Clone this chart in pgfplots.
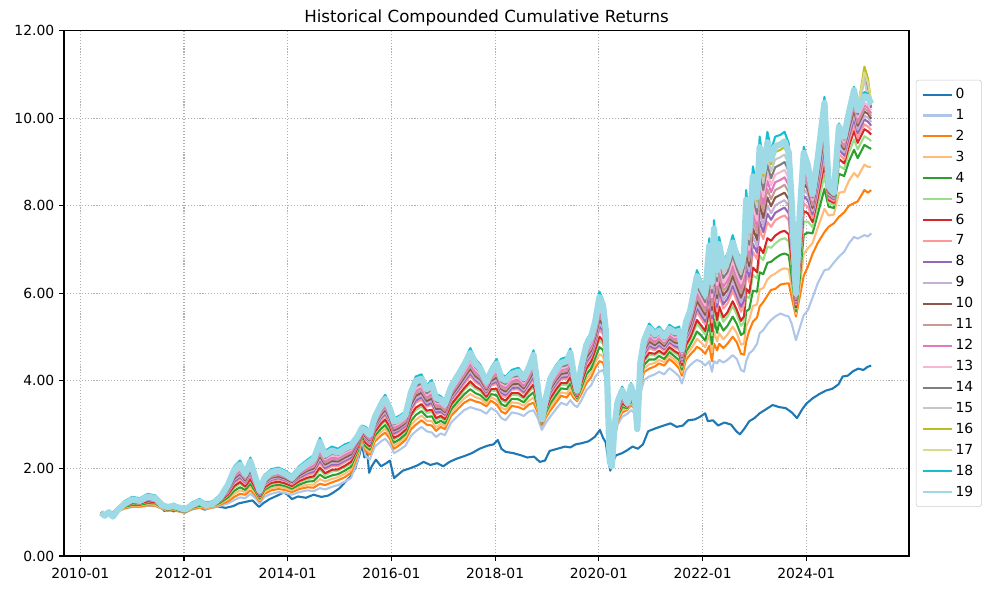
\documentclass[border=0pt]{standalone}
\usepackage{fontspec}
\setmainfont{DejaVu Sans}
\usepackage{pgfplots}
\usepackage{pgfplotstable}
\pgfplotsset{compat=1.18}
\definecolor{c0}{HTML}{1F77B4}
\definecolor{c1}{HTML}{AEC7E8}
\definecolor{c2}{HTML}{FF7F0E}
\definecolor{c3}{HTML}{FFBB78}
\definecolor{c4}{HTML}{2CA02C}
\definecolor{c5}{HTML}{98DF8A}
\definecolor{c6}{HTML}{D62728}
\definecolor{c7}{HTML}{FF9896}
\definecolor{c8}{HTML}{9467BD}
\definecolor{c9}{HTML}{C5B0D5}
\definecolor{c10}{HTML}{8C564B}
\definecolor{c11}{HTML}{C49C94}
\definecolor{c12}{HTML}{E377C2}
\definecolor{c13}{HTML}{F7B6D2}
\definecolor{c14}{HTML}{7F7F7F}
\definecolor{c15}{HTML}{C7C7C7}
\definecolor{c16}{HTML}{BCBD22}
\definecolor{c17}{HTML}{DBDB8D}
\definecolor{c18}{HTML}{17BECF}
\definecolor{c19}{HTML}{9EDAE5}
\definecolor{gridgray}{HTML}{B0B0B0}

\pgfplotstableread{
t s0
2010.40 1.00
2010.47 0.96
2010.53 1.02
2010.60 0.97
2010.68 1.05
2010.80 1.08
2010.92 1.12
2011.05 1.16
2011.15 1.14
2011.30 1.20
2011.45 1.17
2011.55 1.13
2011.62 1.03
2011.70 1.07
2011.80 1.02
2011.90 1.06
2012.00 1.01
2012.10 1.08
2012.25 1.13
2012.40 1.06
2012.50 1.10
2012.65 1.13
2012.80 1.10
2012.95 1.14
2013.05 1.20
2013.20 1.24
2013.32 1.27
2013.45 1.12
2013.52 1.20
2013.65 1.30
2013.80 1.38
2013.92 1.45
2014.00 1.40
2014.08 1.30
2014.20 1.36
2014.35 1.33
2014.50 1.40
2014.65 1.35
2014.78 1.38
2014.88 1.45
2015.00 1.55
2015.10 1.68
2015.20 1.80
2015.30 2.00
2015.38 2.30
2015.43 2.55
2015.48 2.25
2015.53 2.40
2015.57 1.90
2015.62 2.05
2015.70 2.20
2015.80 2.05
2015.90 2.12
2015.97 2.18
2016.05 1.78
2016.12 1.85
2016.22 1.95
2016.35 2.00
2016.50 2.07
2016.62 2.15
2016.75 2.08
2016.88 2.12
2017.00 2.05
2017.12 2.15
2017.25 2.22
2017.40 2.28
2017.55 2.35
2017.70 2.45
2017.85 2.52
2017.97 2.55
2018.05 2.65
2018.12 2.45
2018.20 2.38
2018.35 2.35
2018.50 2.30
2018.62 2.25
2018.75 2.27
2018.86 2.15
2018.96 2.18
2019.05 2.40
2019.20 2.45
2019.35 2.50
2019.45 2.48
2019.55 2.55
2019.68 2.58
2019.80 2.62
2019.92 2.72
2020.02 2.88
2020.08 2.70
2020.13 2.60
2020.18 2.20
2020.22 1.95
2020.27 2.15
2020.33 2.30
2020.45 2.35
2020.55 2.42
2020.65 2.50
2020.75 2.45
2020.85 2.55
2020.95 2.85
2021.10 2.92
2021.25 2.98
2021.38 3.03
2021.50 2.95
2021.62 2.98
2021.72 3.10
2021.85 3.12
2021.95 3.18
2022.05 3.26
2022.10 3.08
2022.20 3.10
2022.30 2.98
2022.42 3.05
2022.55 3.00
2022.65 2.85
2022.72 2.78
2022.80 2.90
2022.90 3.08
2023.00 3.15
2023.10 3.26
2023.22 3.35
2023.35 3.45
2023.48 3.40
2023.60 3.38
2023.72 3.28
2023.82 3.15
2023.92 3.35
2024.00 3.48
2024.12 3.60
2024.25 3.70
2024.38 3.78
2024.50 3.82
2024.62 3.92
2024.70 4.10
2024.80 4.12
2024.90 4.22
2025.00 4.28
2025.10 4.25
2025.18 4.32
2025.25 4.35
}\serieszero

\pgfplotstableread{
t s1 s2 s3 s4 s5 s6 s7 s8 s9 s10 s11 s12 s13 s14 s15 s16 s17 s18 s19
2010.40 1.00 1.00 1.00 1.00 1.00 1.00 1.00 1.00 1.00 1.00 1.00 1.00 1.00 0.99 0.99 0.99 0.99 0.99 0.99
2010.47 0.97 0.96 0.96 0.95 0.95 0.95 0.94 0.94 0.94 0.94 0.93 0.93 0.93 0.93 0.93 0.92 0.92 0.92 0.92
2010.55 1.01 1.01 1.01 1.01 1.01 1.01 1.01 1.01 1.01 1.01 1.00 1.00 1.00 1.00 1.00 1.00 1.00 1.00 1.00
2010.63 0.97 0.96 0.95 0.95 0.94 0.94 0.93 0.93 0.93 0.92 0.92 0.92 0.92 0.91 0.91 0.91 0.90 0.90 0.90
2010.72 1.02 1.02 1.02 1.03 1.03 1.03 1.03 1.04 1.04 1.04 1.04 1.04 1.04 1.04 1.05 1.05 1.05 1.05 1.05
2010.85 1.08 1.09 1.11 1.12 1.14 1.15 1.16 1.17 1.18 1.19 1.19 1.20 1.21 1.22 1.23 1.23 1.24 1.25 1.19
2011.00 1.12 1.13 1.15 1.17 1.20 1.21 1.23 1.24 1.25 1.26 1.27 1.28 1.30 1.31 1.32 1.33 1.34 1.35 1.29
2011.15 1.12 1.13 1.15 1.17 1.19 1.20 1.22 1.23 1.23 1.24 1.25 1.26 1.27 1.28 1.29 1.30 1.31 1.32 1.26
2011.30 1.15 1.16 1.19 1.21 1.24 1.25 1.28 1.29 1.30 1.32 1.33 1.34 1.36 1.37 1.38 1.39 1.41 1.42 1.36
2011.45 1.14 1.15 1.17 1.20 1.22 1.23 1.25 1.27 1.28 1.29 1.30 1.31 1.32 1.33 1.35 1.36 1.37 1.38 1.32
2011.58 1.08 1.08 1.09 1.11 1.12 1.13 1.14 1.15 1.16 1.16 1.17 1.18 1.19 1.19 1.20 1.21 1.21 1.22 1.16
2011.68 1.04 1.03 1.04 1.05 1.06 1.06 1.07 1.08 1.08 1.08 1.09 1.09 1.10 1.10 1.11 1.11 1.12 1.12 1.12
2011.80 1.06 1.05 1.07 1.08 1.10 1.10 1.12 1.13 1.13 1.14 1.15 1.16 1.16 1.17 1.18 1.19 1.19 1.20 1.14
2011.92 1.02 1.01 1.02 1.03 1.04 1.04 1.05 1.06 1.06 1.06 1.07 1.07 1.08 1.08 1.09 1.09 1.10 1.10 1.10
2012.02 1.00 0.99 1.00 1.00 1.01 1.01 1.02 1.03 1.03 1.03 1.04 1.04 1.04 1.05 1.05 1.05 1.06 1.06 1.06
2012.15 1.06 1.07 1.09 1.10 1.12 1.12 1.14 1.15 1.15 1.16 1.17 1.18 1.18 1.19 1.20 1.21 1.21 1.22 1.16
2012.30 1.10 1.11 1.13 1.15 1.17 1.18 1.20 1.21 1.21 1.22 1.23 1.24 1.25 1.26 1.27 1.28 1.29 1.30 1.24
2012.42 1.08 1.09 1.10 1.12 1.13 1.14 1.15 1.16 1.16 1.17 1.17 1.18 1.19 1.19 1.20 1.21 1.21 1.22 1.16
2012.55 1.10 1.11 1.12 1.14 1.15 1.16 1.17 1.18 1.19 1.19 1.20 1.21 1.22 1.22 1.23 1.24 1.24 1.25 1.19
2012.70 1.15 1.18 1.20 1.22 1.25 1.26 1.28 1.29 1.30 1.31 1.32 1.33 1.35 1.36 1.37 1.38 1.39 1.40 1.34
2012.85 1.20 1.25 1.30 1.34 1.39 1.41 1.45 1.48 1.50 1.52 1.54 1.57 1.59 1.61 1.63 1.66 1.68 1.70 1.63
2012.97 1.28 1.35 1.42 1.49 1.56 1.60 1.67 1.70 1.74 1.77 1.81 1.84 1.88 1.91 1.95 1.98 2.02 2.05 1.97
2013.08 1.34 1.42 1.50 1.57 1.65 1.69 1.76 1.80 1.84 1.88 1.91 1.95 1.99 2.03 2.07 2.10 2.14 2.18 2.09
2013.18 1.32 1.40 1.46 1.51 1.57 1.59 1.65 1.68 1.70 1.73 1.76 1.79 1.81 1.84 1.87 1.90 1.92 1.95 1.87
2013.28 1.42 1.50 1.58 1.65 1.73 1.76 1.84 1.88 1.91 1.95 1.99 2.03 2.06 2.10 2.14 2.18 2.21 2.25 2.16
2013.38 1.32 1.38 1.43 1.47 1.52 1.54 1.59 1.62 1.64 1.66 1.69 1.71 1.73 1.76 1.78 1.80 1.83 1.85 1.78
2013.46 1.20 1.25 1.28 1.31 1.34 1.36 1.39 1.40 1.42 1.43 1.45 1.46 1.48 1.49 1.51 1.52 1.54 1.55 1.49
2013.55 1.35 1.42 1.46 1.51 1.55 1.57 1.61 1.64 1.66 1.68 1.70 1.72 1.74 1.76 1.79 1.81 1.83 1.85 1.78
2013.68 1.42 1.50 1.55 1.60 1.64 1.67 1.72 1.74 1.76 1.79 1.81 1.84 1.86 1.88 1.91 1.93 1.96 1.98 1.91
2013.82 1.46 1.53 1.58 1.63 1.68 1.70 1.75 1.78 1.80 1.82 1.85 1.87 1.90 1.92 1.95 1.97 2.00 2.02 1.95
2013.95 1.44 1.51 1.55 1.60 1.64 1.66 1.71 1.73 1.75 1.77 1.80 1.82 1.84 1.86 1.88 1.91 1.93 1.95 1.88
2014.08 1.40 1.46 1.50 1.54 1.58 1.60 1.64 1.66 1.67 1.69 1.71 1.73 1.75 1.77 1.79 1.81 1.83 1.85 1.78
2014.22 1.46 1.53 1.58 1.63 1.69 1.71 1.76 1.79 1.82 1.84 1.87 1.89 1.92 1.95 1.97 2.00 2.02 2.05 1.97
2014.38 1.50 1.57 1.63 1.70 1.76 1.79 1.85 1.89 1.92 1.95 1.98 2.01 2.04 2.07 2.11 2.14 2.17 2.20 2.12
2014.50 1.48 1.56 1.63 1.71 1.78 1.82 1.89 1.93 1.97 2.00 2.04 2.08 2.12 2.15 2.19 2.23 2.26 2.30 2.21
2014.62 1.55 1.65 1.76 1.86 1.97 2.02 2.12 2.18 2.23 2.28 2.33 2.39 2.44 2.49 2.54 2.60 2.65 2.70 2.60
2014.72 1.52 1.62 1.70 1.78 1.85 1.89 1.97 2.01 2.05 2.09 2.13 2.17 2.21 2.24 2.28 2.32 2.36 2.40 2.31
2014.85 1.58 1.68 1.76 1.84 1.93 1.97 2.05 2.09 2.13 2.17 2.21 2.25 2.30 2.34 2.38 2.42 2.46 2.50 2.41
2014.97 1.62 1.73 1.80 1.87 1.95 1.98 2.05 2.09 2.13 2.16 2.20 2.23 2.27 2.31 2.34 2.38 2.41 2.45 2.36
2015.10 1.70 1.80 1.88 1.95 2.03 2.06 2.14 2.18 2.21 2.25 2.29 2.33 2.36 2.40 2.44 2.48 2.51 2.55 2.46
2015.22 1.78 1.90 1.97 2.04 2.11 2.15 2.22 2.25 2.29 2.32 2.36 2.39 2.43 2.46 2.50 2.53 2.57 2.60 2.52
2015.35 2.20 2.30 2.35 2.40 2.45 2.48 2.53 2.55 2.58 2.60 2.63 2.65 2.68 2.70 2.73 2.75 2.78 2.80 2.73
2015.43 2.65 2.72 2.75 2.77 2.80 2.81 2.84 2.85 2.86 2.88 2.89 2.90 2.92 2.93 2.94 2.95 2.97 2.98 2.92
2015.50 2.30 2.40 2.46 2.51 2.57 2.59 2.65 2.68 2.70 2.73 2.76 2.79 2.81 2.84 2.87 2.90 2.92 2.95 2.87
2015.58 2.20 2.32 2.37 2.43 2.48 2.51 2.56 2.59 2.61 2.64 2.66 2.69 2.72 2.74 2.77 2.80 2.82 2.85 2.77
2015.68 2.50 2.62 2.68 2.75 2.81 2.84 2.90 2.94 2.97 3.00 3.03 3.06 3.09 3.12 3.16 3.19 3.22 3.25 3.17
2015.80 2.62 2.75 2.83 2.91 2.99 3.03 3.11 3.15 3.19 3.23 3.27 3.31 3.35 3.39 3.43 3.47 3.51 3.55 3.46
2015.88 2.68 2.82 2.91 2.99 3.08 3.12 3.21 3.25 3.29 3.34 3.38 3.42 3.47 3.51 3.55 3.59 3.64 3.68 3.59
2015.97 2.55 2.68 2.76 2.83 2.91 2.95 3.03 3.07 3.10 3.14 3.18 3.22 3.26 3.30 3.33 3.37 3.41 3.45 3.36
2016.05 2.35 2.45 2.52 2.59 2.66 2.70 2.77 2.80 2.84 2.87 2.91 2.94 2.98 3.01 3.05 3.08 3.12 3.15 3.07
2016.15 2.42 2.53 2.60 2.66 2.73 2.76 2.83 2.87 2.90 2.93 2.97 3.00 3.03 3.07 3.10 3.13 3.17 3.20 3.12
2016.27 2.52 2.65 2.72 2.78 2.85 2.88 2.94 2.98 3.01 3.04 3.07 3.11 3.14 3.17 3.20 3.24 3.27 3.30 3.22
2016.38 2.75 2.90 3.00 3.09 3.19 3.23 3.33 3.38 3.42 3.47 3.52 3.57 3.61 3.66 3.71 3.76 3.80 3.85 3.75
2016.47 2.85 3.00 3.11 3.22 3.33 3.39 3.50 3.55 3.61 3.66 3.72 3.77 3.83 3.88 3.94 3.99 4.05 4.10 4.00
2016.58 2.95 3.10 3.21 3.31 3.42 3.47 3.57 3.63 3.68 3.73 3.78 3.84 3.89 3.94 3.99 4.05 4.10 4.15 4.05
2016.68 2.85 3.00 3.09 3.18 3.27 3.32 3.41 3.45 3.50 3.54 3.59 3.63 3.68 3.72 3.77 3.81 3.86 3.90 3.81
2016.78 2.82 2.98 3.08 3.19 3.29 3.34 3.45 3.50 3.55 3.60 3.66 3.71 3.76 3.81 3.86 3.92 3.97 4.02 3.92
2016.86 2.72 2.86 2.94 3.03 3.11 3.15 3.24 3.28 3.32 3.36 3.41 3.45 3.49 3.53 3.57 3.62 3.66 3.70 3.61
2016.95 2.80 2.95 3.02 3.09 3.16 3.20 3.27 3.30 3.34 3.37 3.41 3.44 3.48 3.51 3.55 3.58 3.62 3.65 3.57
2017.03 2.76 2.90 2.97 3.03 3.10 3.13 3.19 3.23 3.26 3.29 3.32 3.36 3.39 3.42 3.45 3.49 3.52 3.55 3.47
2017.15 3.05 3.20 3.28 3.35 3.43 3.46 3.54 3.58 3.61 3.65 3.69 3.73 3.76 3.80 3.84 3.88 3.91 3.95 3.86
2017.28 3.20 3.36 3.44 3.53 3.61 3.65 3.74 3.78 3.82 3.86 3.91 3.95 3.99 4.03 4.07 4.12 4.16 4.20 4.11
2017.40 3.33 3.50 3.60 3.69 3.79 3.83 3.93 3.98 4.02 4.07 4.12 4.17 4.21 4.26 4.31 4.36 4.40 4.45 4.35
2017.52 3.40 3.58 3.70 3.81 3.93 3.99 4.11 4.17 4.22 4.28 4.34 4.40 4.46 4.52 4.57 4.63 4.69 4.75 4.64
2017.62 3.36 3.53 3.63 3.72 3.82 3.87 3.97 4.02 4.06 4.11 4.16 4.21 4.26 4.31 4.35 4.40 4.45 4.50 4.40
2017.72 3.33 3.50 3.59 3.67 3.76 3.80 3.89 3.93 3.97 4.02 4.06 4.10 4.15 4.19 4.23 4.27 4.32 4.36 4.27
2017.83 3.25 3.42 3.48 3.55 3.61 3.64 3.70 3.74 3.77 3.80 3.83 3.86 3.89 3.92 3.96 3.99 4.02 4.05 3.97
2017.92 3.38 3.55 3.63 3.70 3.78 3.81 3.89 3.93 3.96 4.00 4.04 4.08 4.11 4.15 4.19 4.23 4.26 4.30 4.21
2018.03 3.30 3.46 3.56 3.67 3.77 3.82 3.93 3.98 4.03 4.08 4.14 4.19 4.24 4.29 4.34 4.40 4.45 4.50 4.40
2018.12 3.15 3.30 3.39 3.47 3.56 3.60 3.68 3.73 3.77 3.81 3.85 3.90 3.94 3.98 4.02 4.07 4.11 4.15 4.06
2018.20 3.10 3.25 3.34 3.42 3.51 3.55 3.63 3.68 3.72 3.76 3.80 3.85 3.89 3.93 3.97 4.02 4.06 4.10 4.01
2018.32 3.28 3.43 3.51 3.59 3.68 3.72 3.80 3.84 3.88 3.92 3.96 4.00 4.05 4.09 4.13 4.17 4.21 4.25 4.16
2018.45 3.25 3.40 3.49 3.58 3.67 3.72 3.81 3.85 3.90 3.94 3.99 4.03 4.08 4.12 4.17 4.21 4.26 4.30 4.21
2018.55 3.20 3.35 3.43 3.51 3.59 3.63 3.71 3.75 3.79 3.83 3.87 3.91 3.95 3.99 4.03 4.07 4.11 4.15 4.06
2018.65 3.30 3.46 3.55 3.65 3.74 3.79 3.88 3.93 3.98 4.02 4.07 4.12 4.17 4.21 4.26 4.31 4.35 4.40 4.30
2018.74 3.33 3.50 3.62 3.74 3.86 3.92 4.04 4.10 4.16 4.22 4.28 4.34 4.40 4.46 4.52 4.58 4.64 4.70 4.59
2018.82 3.15 3.28 3.35 3.41 3.48 3.51 3.58 3.62 3.65 3.68 3.72 3.75 3.78 3.82 3.85 3.88 3.92 3.95 3.87
2018.90 2.88 2.98 3.00 3.02 3.04 3.05 3.07 3.08 3.09 3.10 3.11 3.12 3.13 3.14 3.15 3.16 3.17 3.18 3.12
2018.98 3.05 3.17 3.22 3.28 3.33 3.36 3.41 3.44 3.46 3.49 3.51 3.54 3.57 3.59 3.62 3.65 3.67 3.70 3.62
2019.06 3.18 3.32 3.40 3.48 3.56 3.60 3.68 3.73 3.77 3.81 3.85 3.89 3.93 3.97 4.01 4.05 4.09 4.13 4.04
2019.17 3.35 3.50 3.59 3.67 3.76 3.80 3.88 3.93 3.97 4.01 4.05 4.10 4.14 4.18 4.22 4.27 4.31 4.35 4.26
2019.27 3.50 3.66 3.74 3.83 3.91 3.95 4.04 4.08 4.12 4.16 4.21 4.25 4.29 4.33 4.37 4.42 4.46 4.50 4.41
2019.38 3.45 3.62 3.71 3.81 3.90 3.95 4.04 4.09 4.13 4.18 4.22 4.27 4.32 4.36 4.41 4.46 4.50 4.55 4.45
2019.45 3.56 3.74 3.84 3.94 4.04 4.09 4.19 4.24 4.29 4.34 4.39 4.44 4.49 4.54 4.59 4.64 4.69 4.74 4.64
2019.52 3.45 3.60 3.66 3.72 3.78 3.81 3.87 3.90 3.93 3.96 3.99 4.02 4.05 4.08 4.11 4.14 4.17 4.20 4.12
2019.58 3.40 3.54 3.57 3.60 3.63 3.65 3.68 3.70 3.71 3.73 3.74 3.76 3.77 3.79 3.80 3.82 3.83 3.85 3.78
2019.66 3.55 3.70 3.77 3.84 3.91 3.95 4.02 4.05 4.09 4.12 4.16 4.19 4.23 4.26 4.30 4.33 4.37 4.40 4.32
2019.76 3.79 3.95 4.05 4.15 4.24 4.29 4.39 4.44 4.49 4.54 4.59 4.64 4.69 4.73 4.78 4.83 4.88 4.93 4.83
2019.85 3.90 4.08 4.18 4.28 4.39 4.44 4.54 4.59 4.64 4.69 4.74 4.79 4.85 4.90 4.95 5.00 5.05 5.10 5.00
2019.93 4.10 4.30 4.42 4.53 4.65 4.71 4.83 4.89 4.94 5.00 5.06 5.12 5.18 5.24 5.29 5.35 5.41 5.47 5.36
2020.01 4.21 4.45 4.61 4.77 4.93 5.01 5.17 5.25 5.32 5.40 5.48 5.56 5.64 5.72 5.80 5.88 5.96 6.04 5.91
2020.08 4.25 4.42 4.56 4.71 4.85 4.92 5.06 5.14 5.21 5.28 5.35 5.42 5.49 5.56 5.64 5.71 5.78 5.85 5.73
2020.13 4.05 4.20 4.31 4.42 4.53 4.59 4.70 4.75 4.81 4.86 4.92 4.97 5.03 5.08 5.14 5.19 5.25 5.30 5.20
2020.17 3.40 3.45 3.48 3.50 3.53 3.54 3.56 3.58 3.59 3.60 3.61 3.63 3.64 3.65 3.66 3.68 3.69 3.70 3.64
2020.21 2.25 2.22 2.21 2.21 2.20 2.20 2.19 2.19 2.18 2.18 2.17 2.17 2.17 2.16 2.16 2.16 2.15 2.15 2.15
2020.25 2.15 2.10 2.10 2.09 2.09 2.08 2.08 2.08 2.07 2.07 2.07 2.07 2.06 2.06 2.06 2.06 2.05 2.05 2.05
2020.30 2.65 2.70 2.73 2.76 2.79 2.81 2.84 2.85 2.87 2.88 2.90 2.91 2.93 2.94 2.96 2.97 2.99 3.00 2.94
2020.36 3.00 3.08 3.13 3.18 3.24 3.26 3.31 3.34 3.37 3.39 3.42 3.44 3.47 3.50 3.52 3.55 3.57 3.60 3.52
2020.45 3.18 3.28 3.34 3.40 3.46 3.49 3.55 3.58 3.60 3.63 3.66 3.69 3.72 3.75 3.78 3.81 3.84 3.87 3.79
2020.55 3.25 3.34 3.36 3.38 3.40 3.41 3.43 3.45 3.46 3.47 3.48 3.49 3.50 3.51 3.52 3.53 3.54 3.55 3.49
2020.62 3.33 3.45 3.50 3.55 3.60 3.63 3.68 3.70 3.73 3.75 3.78 3.80 3.83 3.85 3.88 3.90 3.93 3.95 3.88
2020.70 3.26 3.35 3.38 3.40 3.43 3.44 3.46 3.48 3.49 3.50 3.51 3.53 3.54 3.55 3.56 3.58 3.59 3.60 3.54
2020.74 3.15 3.24 3.27 3.30 3.33 3.35 3.38 3.40 3.41 3.43 3.44 3.46 3.47 3.49 3.50 3.52 3.53 3.55 2.90
2020.80 3.70 3.85 3.92 3.98 4.05 4.08 4.14 4.18 4.21 4.24 4.27 4.31 4.34 4.37 4.40 4.44 4.47 4.50 4.42
2020.87 4.02 4.20 4.28 4.36 4.44 4.48 4.56 4.61 4.65 4.69 4.73 4.77 4.81 4.85 4.89 4.93 4.97 5.01 4.92
2020.97 4.10 4.28 4.38 4.49 4.59 4.64 4.74 4.80 4.85 4.90 4.95 5.00 5.05 5.10 5.16 5.21 5.26 5.31 5.21
2021.08 4.15 4.33 4.41 4.49 4.58 4.62 4.70 4.74 4.78 4.82 4.86 4.90 4.95 4.99 5.03 5.07 5.11 5.15 5.06
2021.16 4.21 4.40 4.48 4.57 4.65 4.69 4.78 4.82 4.86 4.90 4.95 4.99 5.03 5.07 5.11 5.16 5.20 5.24 5.15
2021.26 4.15 4.35 4.43 4.50 4.58 4.61 4.69 4.73 4.76 4.80 4.84 4.88 4.91 4.95 4.99 5.03 5.06 5.10 5.01
2021.36 4.29 4.50 4.58 4.66 4.73 4.77 4.85 4.89 4.93 4.97 5.01 5.05 5.09 5.12 5.16 5.20 5.24 5.28 5.19
2021.46 4.20 4.40 4.48 4.56 4.64 4.68 4.76 4.80 4.84 4.88 4.92 4.96 5.00 5.04 5.08 5.12 5.16 5.20 5.11
2021.55 4.10 4.28 4.38 4.47 4.57 4.62 4.71 4.76 4.81 4.86 4.90 4.95 5.00 5.05 5.10 5.14 5.19 5.24 5.14
2021.60 3.94 4.12 4.19 4.26 4.32 4.36 4.43 4.46 4.49 4.53 4.56 4.60 4.63 4.66 4.70 4.73 4.77 4.80 4.72
2021.68 4.25 4.48 4.58 4.67 4.77 4.82 4.92 4.97 5.01 5.06 5.11 5.16 5.21 5.26 5.30 5.35 5.40 5.45 5.35
2021.76 4.36 4.60 4.71 4.82 4.93 4.99 5.10 5.15 5.21 5.26 5.32 5.37 5.43 5.48 5.54 5.59 5.65 5.70 5.60
2021.84 4.44 4.70 4.85 5.00 5.15 5.23 5.38 5.45 5.53 5.60 5.68 5.75 5.83 5.90 5.98 6.05 6.13 6.20 6.08
2021.89 4.48 4.78 4.96 5.13 5.31 5.39 5.57 5.66 5.74 5.83 5.92 6.01 6.09 6.18 6.27 6.36 6.44 6.53 6.39
2021.97 4.44 4.72 4.88 5.04 5.19 5.27 5.43 5.51 5.59 5.67 5.75 5.83 5.91 5.98 6.06 6.14 6.22 6.30 6.17
2022.05 4.35 4.62 4.77 4.92 5.06 5.14 5.29 5.36 5.43 5.51 5.58 5.66 5.73 5.80 5.88 5.95 6.03 6.10 5.98
2022.13 4.45 4.80 5.05 5.29 5.54 5.66 5.91 6.03 6.15 6.28 6.40 6.52 6.65 6.77 6.89 7.01 7.14 7.26 7.09
2022.18 4.21 4.45 4.65 4.84 5.04 5.13 5.33 5.43 5.52 5.62 5.72 5.82 5.91 6.01 6.11 6.21 6.30 6.40 6.25
2022.22 4.45 4.85 5.13 5.41 5.70 5.84 6.12 6.26 6.40 6.54 6.68 6.82 6.97 7.11 7.25 7.39 7.53 7.67 7.48
2022.28 4.40 4.70 4.90 5.10 5.29 5.39 5.59 5.69 5.79 5.89 5.99 6.09 6.19 6.28 6.38 6.48 6.58 6.68 6.53
2022.32 4.48 4.85 5.09 5.34 5.58 5.70 5.95 6.07 6.19 6.31 6.44 6.56 6.68 6.80 6.92 7.05 7.17 7.29 7.12
2022.40 4.42 4.75 4.95 5.15 5.35 5.45 5.65 5.75 5.85 5.95 6.05 6.15 6.25 6.35 6.45 6.55 6.65 6.75 6.60
2022.48 4.48 4.85 5.06 5.26 5.47 5.57 5.77 5.88 5.98 6.08 6.18 6.29 6.39 6.49 6.59 6.70 6.80 6.90 6.75
2022.58 4.59 5.01 5.24 5.47 5.71 5.82 6.05 6.17 6.29 6.40 6.52 6.63 6.75 6.87 6.98 7.10 7.21 7.33 7.16
2022.66 4.50 4.88 5.09 5.30 5.51 5.62 5.83 5.94 6.04 6.15 6.25 6.36 6.46 6.57 6.67 6.78 6.88 6.99 6.83
2022.74 4.25 4.62 4.83 5.05 5.26 5.37 5.58 5.69 5.80 5.90 6.01 6.12 6.23 6.33 6.44 6.55 6.65 6.76 6.60
2022.80 4.21 4.60 4.85 5.10 5.35 5.48 5.73 5.85 5.98 6.10 6.23 6.35 6.48 6.60 6.73 6.85 6.98 7.10 6.93
2022.84 4.45 4.90 5.25 5.59 5.94 6.11 6.46 6.63 6.80 6.98 7.15 7.32 7.50 7.67 7.84 8.01 8.19 8.36 8.14
2022.90 4.63 5.15 5.40 5.64 5.89 6.01 6.25 6.38 6.50 6.62 6.74 6.87 6.99 7.11 7.23 7.36 7.48 7.60 7.43
2022.97 4.70 5.35 5.71 6.06 6.42 6.59 6.95 7.13 7.30 7.48 7.66 7.84 8.01 8.19 8.37 8.55 8.72 8.90 8.67
2023.05 4.85 5.45 5.75 6.04 6.34 6.48 6.78 6.93 7.07 7.22 7.37 7.52 7.66 7.81 7.96 8.11 8.25 8.40 8.20
2023.10 5.09 5.70 6.09 6.48 6.86 7.06 7.45 7.64 7.83 8.03 8.22 8.42 8.61 8.80 9.00 9.19 9.39 9.58 9.34
2023.17 5.16 5.80 6.12 6.44 6.76 6.92 7.24 7.40 7.56 7.72 7.88 8.04 8.20 8.36 8.52 8.68 8.84 9.00 8.79
2023.25 5.30 5.95 6.32 6.70 7.07 7.26 7.63 7.82 8.01 8.19 8.38 8.57 8.76 8.94 9.13 9.32 9.50 9.69 9.45
2023.32 5.39 6.08 6.40 6.72 7.04 7.20 7.52 7.68 7.83 7.99 8.15 8.31 8.47 8.63 8.79 8.95 9.11 9.27 9.06
2023.40 5.47 6.10 6.45 6.80 7.14 7.32 7.67 7.84 8.01 8.19 8.36 8.54 8.71 8.88 9.06 9.23 9.41 9.58 9.36
2023.50 5.54 6.20 6.54 6.88 7.23 7.40 7.74 7.91 8.08 8.25 8.42 8.59 8.77 8.94 9.11 9.28 9.45 9.62 9.40
2023.58 5.50 6.22 6.57 6.91 7.26 7.43 7.78 7.96 8.13 8.30 8.48 8.65 8.82 9.00 9.17 9.34 9.52 9.69 9.47
2023.66 5.47 6.23 6.55 6.87 7.19 7.35 7.67 7.83 7.99 8.15 8.31 8.47 8.63 8.79 8.95 9.11 9.27 9.43 9.22
2023.72 5.30 5.90 6.13 6.36 6.59 6.71 6.94 7.05 7.17 7.28 7.40 7.51 7.63 7.74 7.86 7.97 8.09 8.20 8.04
2023.80 4.93 5.47 5.53 5.59 5.65 5.68 5.74 5.78 5.81 5.84 5.87 5.90 5.93 5.96 5.99 6.02 6.05 6.08 6.00
2023.87 5.20 5.90 6.10 6.30 6.50 6.60 6.80 6.90 7.00 7.10 7.20 7.30 7.40 7.50 7.60 7.70 7.80 7.90 7.75
2023.95 5.50 6.40 6.90 7.34 7.64 7.88 8.05 8.23 8.38 8.52 8.64 8.76 8.88 9.00 9.08 9.17 9.26 9.35 9.21
2024.03 5.62 6.61 7.03 7.39 7.64 7.83 7.98 8.12 8.25 8.37 8.46 8.56 8.66 8.76 8.83 8.90 8.98 9.05 8.93
2024.12 5.90 6.90 7.15 7.37 7.51 7.63 7.72 7.81 7.88 7.95 8.01 8.07 8.13 8.19 8.23 8.27 8.32 8.36 8.27
2024.22 6.23 7.15 7.50 7.81 8.01 8.18 8.30 8.42 8.52 8.63 8.71 8.79 8.87 8.95 9.02 9.08 9.14 9.20 9.09
2024.35 6.53 7.40 7.93 8.39 8.70 8.95 9.13 9.32 9.47 9.63 9.75 9.87 10.00 10.12 10.21 10.31 10.40 10.49 10.35
2024.43 6.55 7.52 7.78 7.98 8.07 8.13 8.18 8.23 8.27 8.31 8.34 8.37 8.40 8.43 8.46 8.48 8.50 8.51 8.45
2024.53 6.70 7.60 7.80 7.95 8.02 8.07 8.11 8.15 8.18 8.21 8.23 8.25 8.28 8.30 8.32 8.34 8.35 8.36 8.30
2024.63 6.84 7.75 8.30 8.73 8.92 9.07 9.18 9.28 9.37 9.45 9.52 9.58 9.65 9.71 9.77 9.82 9.86 9.88 9.81
2024.73 6.95 7.85 8.32 8.68 8.84 8.97 9.06 9.15 9.22 9.29 9.34 9.40 9.45 9.51 9.56 9.60 9.63 9.65 9.58
2024.82 7.14 8.00 8.57 9.01 9.21 9.36 9.47 9.58 9.66 9.75 9.82 9.88 9.95 10.02 10.08 10.12 10.17 10.19 10.12
2024.92 7.29 8.06 8.75 9.28 9.52 9.71 9.84 9.98 10.08 10.19 10.27 10.35 10.43 10.51 10.59 10.64 10.69 10.72 10.64
2024.99 7.25 8.10 8.66 9.09 9.29 9.44 9.55 9.66 9.74 9.83 9.89 9.96 10.02 10.09 10.15 10.20 10.24 10.26 10.19
2025.12 7.33 8.36 8.94 9.39 9.59 9.75 9.86 9.97 10.06 10.15 10.22 10.29 10.35 10.95 10.90 11.18 11.05 10.60 10.50
2025.19 7.30 8.30 8.89 9.34 9.54 9.70 9.81 9.92 10.01 10.10 10.17 10.24 10.30 10.70 10.44 10.90 10.80 10.55 10.48
2025.25 7.37 8.36 8.89 9.30 9.48 9.63 9.73 9.83 9.91 9.99 10.05 10.11 10.18 10.24 10.30 10.34 10.38 10.40 10.33
}\fan

\begin{document}
\begin{tikzpicture}
\begin{axis}[
  at={(0,0)}, anchor=south west,
  scale only axis, width=608.4pt, height=378.2pt,
  xmin=2009.686, xmax=2025.98, ymin=0, ymax=12,
  xtick={2010,2012,2014,2016,2018,2020,2022,2024},
  xticklabels={2010-01,2012-01,2014-01,2016-01,2018-01,2020-01,2022-01,2024-01},
  ytick={0,2,4,6,8,10,12},
  yticklabels={0.00,2.00,4.00,6.00,8.00,10.00,12.00},
  tick align=outside, tick pos=left, major tick length=3.5pt,
  every tick/.style={black, line width=0.8pt},
  axis line style={line width=0.8pt},
  grid=major,
  grid style={gridgray, line width=0.8pt, dash pattern=on 0.8pt off 1.32pt},
  ticklabel style={font=\fontsize{10}{12}\selectfont},
  xticklabel style={yshift=-2pt},
  title={Historical Compounded Cumulative Returns},
  title style={font=\fontsize{12}{14}\selectfont, at={(0.5,1)}, anchor=base, yshift=0pt},
  legend style={at={(1.008,0.5)}, anchor=west, draw=black!20, rounded corners=2pt,
    font=\fontsize{10}{12}\selectfont, row sep=2.2pt, inner xsep=4pt, inner ysep=4pt},
  legend cell align=left,
  legend image code/.code={\draw[#1, line width=1.5pt] (0pt,0pt) -- (21pt,0pt);},
  legend image post style={line width=1.5pt},
  every axis plot/.append style={line width=1.5pt, line join=round},
]
\addplot[c0] table[x=t,y=s0]{\serieszero};
\addplot[c1] table[x=t,y=s1]{\fan};
\addplot[c2] table[x=t,y=s2]{\fan};
\addplot[c3] table[x=t,y=s3]{\fan};
\addplot[c4] table[x=t,y=s4]{\fan};
\addplot[c5] table[x=t,y=s5]{\fan};
\addplot[c6] table[x=t,y=s6]{\fan};
\addplot[c7] table[x=t,y=s7]{\fan};
\addplot[c8] table[x=t,y=s8]{\fan};
\addplot[c9] table[x=t,y=s9]{\fan};
\addplot[c10] table[x=t,y=s10]{\fan};
\addplot[c11] table[x=t,y=s11]{\fan};
\addplot[c12] table[x=t,y=s12]{\fan};
\addplot[c13] table[x=t,y=s13]{\fan};
\addplot[c14] table[x=t,y=s14]{\fan};
\addplot[c15] table[x=t,y=s15]{\fan};
\addplot[c16] table[x=t,y=s16]{\fan};
\addplot[c17] table[x=t,y=s17]{\fan};
\addplot[c18] table[x=t,y=s18]{\fan};
\addplot[c19, line width=4.5pt] table[x=t,y=s19]{\fan};
\legend{0,1,2,3,4,5,6,7,8,9,10,11,12,13,14,15,16,17,18,19}
\end{axis}
\pgfresetboundingbox
\path[use as bounding box] (-46.08pt,-25.92pt) rectangle (673.92pt,400.32pt);
\end{tikzpicture}
\end{document}
